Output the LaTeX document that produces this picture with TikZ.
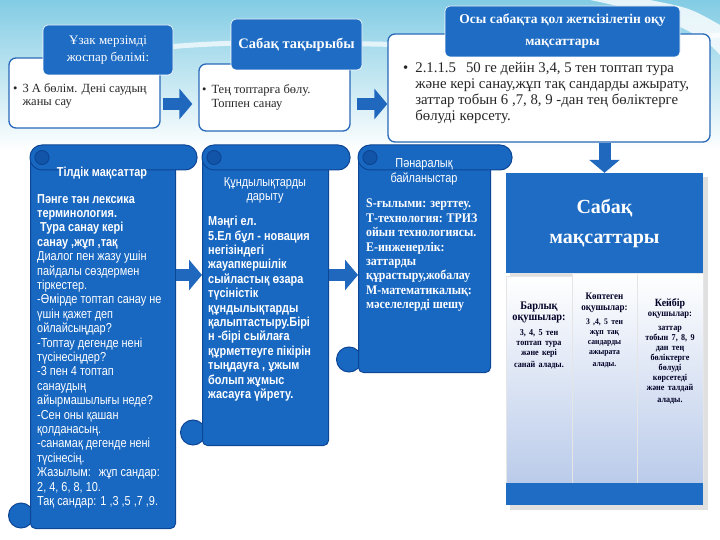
\documentclass[tikz,border=0pt]{standalone}
\usepackage{fontspec}
\setmainfont{Liberation Serif}
\newfontfamily\narrowsans[FakeStretch=0.84]{Liberation Sans}
\newfontfamily\narrowserif[FakeStretch=0.9]{Liberation Serif}
\usetikzlibrary{arrows.meta}
\definecolor{bgtop}{RGB}{130,204,228}
\definecolor{headblue}{RGB}{30,108,196}
\definecolor{boxline}{RGB}{40,105,185}
\definecolor{scrollblue}{RGB}{24,104,194}
\definecolor{scrolldark}{RGB}{14,70,150}
\definecolor{arrowblue}{RGB}{32,104,190}
\definecolor{colbottom}{RGB}{186,203,234}
\begin{document}
\begin{tikzpicture}[x=1pt,y=-1pt,
  bodybox/.style={draw=boxline,line width=1.3pt,fill=white,rounded corners=7pt},
  head/.style={draw=white,line width=0.6pt,fill=headblue,rounded corners=5pt,text=white,align=center,inner sep=0pt},
  bodytext/.style={anchor=north west,inner sep=0pt,align=left,text=black!85},
  fatarrow/.style={draw=arrowblue,line width=12pt,-{Triangle[width=30pt,length=13pt]}},
  scrollbody/.style={draw=scrolldark,line width=1pt,fill=scrollblue,rounded corners=5pt,anchor=north west,inner sep=0pt},
  scrolltitle/.style={text=white,align=center,inner sep=0pt},
  scrolltext/.style={text=white,align=left,inner sep=0pt,anchor=north west},
  column/.style={top color=white,bottom color=colbottom,draw=white!80!gray,line width=0.5pt,inner sep=0pt},
  coltext/.style={anchor=north,text width=62pt,align=center,inner sep=0pt,text=black!85!blue,font=\narrowserif\bfseries}]
\useasboundingbox (0,0) rectangle (720,540);
% background
\shade[top color=bgtop,bottom color=white] (0,0) rectangle (720,150);
\draw[white,line width=5pt,opacity=0.7] (140,50) .. controls (300,30) and (450,60) .. (720,35);
\fill[white,opacity=0.8] (590,0) .. controls (650,12) and (700,30) .. (720,55) -- (720,25) .. controls (690,8) .. (650,0) -- cycle;

% top row
\coordinate (toprow) at (0,104);
\node[bodybox,minimum width=151pt,minimum height=70pt] (plan) at (84.5,93) {};
\node[bodybox,minimum width=151pt,minimum height=67pt] (topic) at (274.5,97.5) {};
\node[bodybox,minimum width=322pt,minimum height=108pt] (goals) at (549,88) {};
\node[head,minimum width=130pt,minimum height=50pt,font=\fontsize{13}{17}\selectfont] (planhead) at (108,50) {Ұзак мерзімді\\жоспар бөлімі:};
\node[head,minimum width=131pt,minimum height=51pt,font=\bfseries\fontsize{14.5}{17}\selectfont] (topichead) at (296.5,44.5) {Сабақ тақырыбы};
\node[head,minimum width=235pt,minimum height=51pt,font=\bfseries\fontsize{13.5}{22}\selectfont] (goalshead) at (562.5,31.5) {Осы сабақта қол жеткізілетін оқу\\мақсаттары};
\node[bodytext,font=\fontsize{12.5}{13}\selectfont] (plantext) at (13,83) {\begin{tabular}{@{}l@{\hspace{5pt}}l@{}}\textbullet & 3 А бөлім. Дені саудың\\ & жаны сау\end{tabular}};
\node[bodytext,font=\fontsize{12.5}{13.5}\selectfont] (topictext) at (202,84) {\begin{tabular}{@{}l@{\hspace{5pt}}l@{}}\textbullet & Тең топтарға бөлу.\\ & Топпен санау\end{tabular}};
\node[bodytext,font=\fontsize{14.8}{16}\selectfont] (goalstext) at (403,61) {\begin{tabular}{@{}l@{\hspace{7pt}}l@{}}\textbullet & 2.1.1.5\hspace{10pt}50 ге дейін 3,4, 5 тен топтап тура\\ & және кері санау,жұп тақ сандарды ажырату,\\ & заттар тобын 6 ,7, 8, 9 -дан тең бөліктерге\\ & бөлуді көрсету.\end{tabular}};

% scrolls
\foreach \n/\l/\r/\b in {lang/30/175/528,value/202/328/445,link/358/490/372}{
  \filldraw[fill=scrollblue,draw=scrolldark,line width=1pt] (\l-9,\b-12.5) circle (12.5);
  \node[scrollbody,minimum width={(\r-\l)*1pt},minimum height={(\b-157)*1pt}] (\n) at (\l,157) {};
  \filldraw[fill=scrollblue,draw=scrolldark,line width=1pt,rounded corners=12pt] (\l,145) rectangle (\r+22,170);
  \filldraw[fill=scrolldark!60!scrollblue,draw=scrolldark,line width=1pt] (\l+12,157.5) circle (7);
}
\node[scrolltitle,font=\narrowsans\bfseries\fontsize{13}{14}\selectfont] (langtitle) at (102,173) {Тілдік мақсаттар};
\node[scrolltext,font=\narrowsans\fontsize{13}{14.4}\selectfont] (langtext) at (37,194) {\textbf{Пәнге тән лексика}\\\textbf{терминология.}\\\hspace{3pt}\textbf{Тура санау кері}\\\textbf{санау ,жұп ,тақ}\\Диалог пен жазу ушін\\пайдалы сөздермен\\тіркестер.\\-Өмірде топтап санау не\\үшін қажет деп\\ойлайсыңдар?\\-Топтау дегенде нені\\түсінесіңдер?\\-3 пен 4 топтап\\санаудың\\айырмашылығы неде?\\-Сен оны қашан\\қолданасың.\\-санамақ дегенде нені\\түсінесің.\\Жазылым:\hspace{8pt}жұп сандар:\\2, 4, 6, 8, 10.\\Тақ сандар: 1 ,3 ,5 ,7 ,9.};
\node[scrolltitle,font=\narrowsans\fontsize{13}{14}\selectfont] (valuetitle) at (265,190) {Құндылықтарды\\дарыту};
\node[scrolltext,font=\narrowsans\bfseries\fontsize{13}{14.4}\selectfont] (valuetext) at (208,216) {Мәңгі ел.\\5.Ел бұл - новация\\негізіндегі\\жауапкершілік\\сыйластық өзара\\түсіністік\\құндылықтарды\\қалыптастыру.Бірі\\н -бірі сыйлаға\\құрметтеуге пікірін\\тыңдауға , ұжым\\болып жұмыс\\жасауға үйрету.};
\node[scrolltitle,font=\narrowsans\fontsize{13}{15}\selectfont] (linktitle) at (424,172) {Пәнаралық\\байланыстар};
\node[scrolltext,font=\narrowserif\bfseries\fontsize{13.2}{14.4}\selectfont] (linktext) at (366,199) {S-ғылыми:\hspace{4pt}зерттеу.\\Т-технология: ТРИЗ\\ойын технологиясы.\\Е-инженерлік:\\заттарды\\құрастыру,жобалау\\М-математикалық:\\мәселелерді шешу};

% right panel
\fill[black!12] (510,177) rectangle (708,510);
\node[fill=headblue,minimum width=197pt,minimum height=100pt,text=white,align=center,inner sep=0pt,font=\bfseries\fontsize{20}{30}\selectfont] (panel) at (604.5,223) {Сабақ\\мақсаттары};
\node[column,minimum width=66pt,minimum height=207pt] (allcol) at (539,379.5) {};
\node[column,minimum width=65pt,minimum height=210pt] (mostcol) at (604.5,378) {};
\node[column,minimum width=66pt,minimum height=210pt] (somecol) at (670,378) {};
\node[fill=headblue,minimum width=197pt,minimum height=22pt,inner sep=0pt] (panelfoot) at (604.5,494) {};
\node[coltext] (alltext) at (539,302) {{\fontsize{11.5}{11}\selectfont Барлық\\оқушылар:\par}\vspace{5pt}\fontsize{9}{10}\selectfont 3, 4, 5 тен\\топтап тура\\және кері\\санай алады.};
\node[coltext] (mosttext) at (604.5,293) {{\fontsize{10}{11}\selectfont Көптеген\\оқушылар:\par}\vspace{4pt}\fontsize{8.5}{10}\selectfont 3 ,4, 5 тен\\жұп тақ\\сандарды\\ажырата\\алады.};
\node[coltext] (sometext) at (670,298) {{\fontsize{11}{11}\selectfont Кейбір\\\fontsize{9.5}{10}\selectfont оқушылар:\par}\vspace{4pt}\fontsize{9}{10}\selectfont заттар\\тобын 7, 8, 9\\дан тең\\бөліктерге\\бөлуді\\көрсетеді\\және талдай\\алады.};

% arrows
\coordinate (midrow) at (0,275);
\draw[fatarrow,shorten <=2pt,shorten >=6pt] (plan.east |- toprow) -- (topic.west |- toprow);
\draw[fatarrow,shorten <=6pt] (topic.east |- toprow) -- (goals.west |- toprow);
\draw[fatarrow] (goals.south -| panel.north) -- (panel.north);
\draw[fatarrow] (lang.east |- midrow) -- (value.west |- midrow);
\draw[fatarrow] (value.east |- midrow) -- (link.west |- midrow);
\end{tikzpicture}
\end{document}
